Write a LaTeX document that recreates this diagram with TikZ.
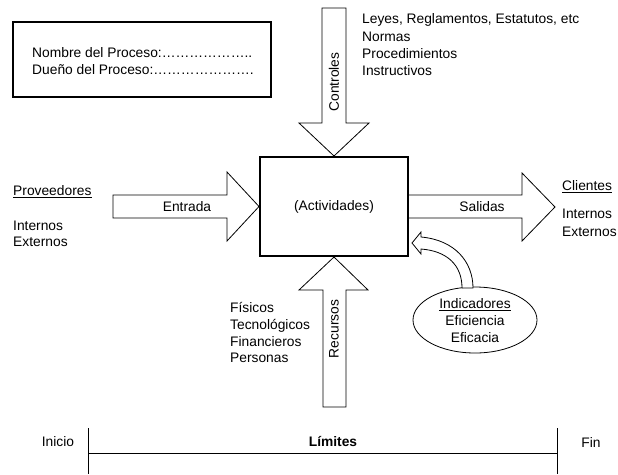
\documentclass[tikz,border=0pt]{standalone}
\usepackage{fontspec}
\setmainfont{Liberation Sans}
\usetikzlibrary{shapes.geometric}
\newcommand{\myell}{…}
\begin{document}
\begin{tikzpicture}[x=1pt,y=-1pt,
  txt/.style={font=\fontsize{13.8}{17}\selectfont, inner sep=0pt},
  blockarrow/.style={draw, line width=0.8pt, fill=white, line join=miter},
  framebox/.style={draw, line width=1.6pt},
  uline/.style={line width=0.7pt},
  limline/.style={line width=1pt}]
\useasboundingbox (0,0) rectangle (618,474);

% title box
\draw[framebox] (13,22) rectangle (271,97);
\node[txt, anchor=base west] (nombre) at (32,57) {Nombre del Proceso:\myell\myell\myell\myell\myell\myell..};
\node[txt, anchor=base west] (duenio) at (32,74) {Dueño del Proceso:\myell\myell\myell\myell\myell\myell\myell.};

% central box
\node[draw, line width=2pt, minimum width=148pt, minimum height=99pt, inner sep=0pt,
      font=\fontsize{13.8}{17}\selectfont] (act) at (334,206.5) {(Actividades)};

% Controles arrow
\draw[blockarrow] (322,8) -- (346,8) -- (346,123) -- (369,123) -- (act.north) -- (299,123) -- (322,123) -- cycle;
\node[txt, rotate=90] (controles) at (334,82) {Controles};
\node[txt, anchor=base west] (leyes) at (362,23) {Leyes, Reglamentos, Estatutos, etc};
\node[txt, anchor=base west] (normas) at (362,41) {Normas};
\node[txt, anchor=base west] (proc) at (362,58) {Procedimientos};
\node[txt, anchor=base west] (instr) at (362,75) {Instructivos};

% Entrada arrow
\draw[blockarrow] (113,195) -- (227,195) -- (227,172) -- (act.west) -- (227,241) -- (227,218) -- (113,218) -- cycle;
\node[txt] (entrada) at (187,207) {Entrada};
\node[txt, anchor=base west] (prov) at (13,195) {Proveedores};
\draw[uline] ([yshift=-2.5pt]prov.base west) -- ([yshift=-2.5pt]prov.base east);
\node[txt, anchor=base west] (intL) at (13,230) {Internos};
\node[txt, anchor=base west] (extL) at (13,246) {Externos};

% Salidas arrow
\coordinate (stip) at (555,207);
\draw[blockarrow] (act.east |- 0,195) -- (522,195) -- (522,173) -- (stip) -- (522,241) -- (522,218) -- (act.east |- 0,218);
\node[txt] (salidas) at (482,207) {Salidas};
\node[txt, anchor=base west] (clientes) at (562,190) {Clientes};
\draw[uline] ([yshift=-2.5pt]clientes.base west) -- ([yshift=-2.5pt]clientes.base east);
\node[txt, anchor=base west] (intR) at (562,218) {Internos};
\node[txt, anchor=base west] (extR) at (562,236) {Externos};

% Recursos arrow
\draw[blockarrow] (act.south) -- (368,290) -- (346,290) -- (346,407) -- (323,407) -- (323,290) -- (299,290) -- cycle;
\node[txt, rotate=90] (recursos) at (334,329) {Recursos};
\node[txt, anchor=base west] (fis) at (230,312) {Físicos};
\node[txt, anchor=base west] (tec) at (230,329) {Tecnológicos};
\node[txt, anchor=base west] (fin) at (230,346) {Financieros};
\node[txt, anchor=base west] (per) at (230,362) {Personas};

% Indicadores
\node[draw, ellipse, line width=0.8pt, minimum width=124pt, minimum height=66pt, inner sep=0pt] (ind) at (475,320) {};
\node[txt, anchor=base] (indic) at (475,308) {Indicadores};
\draw[uline] ([yshift=-2.5pt]indic.base west) -- ([yshift=-2.5pt]indic.base east);
\node[txt, anchor=base] (efi) at (475,325) {Eficiencia};
\node[txt, anchor=base] (efa) at (475,342) {Eficacia};

% curved arrow
\draw[blockarrow] (473,288) .. controls (473,262) and (455,240) .. (421,237)
   -- (421,232) -- (412,243) -- (421,254) -- (421,249)
   .. controls (447,251) and (462,265) .. (462,288) -- cycle;

% Limites
\coordinate (l1) at (88,428); \coordinate (l2) at (88,474);
\coordinate (r1) at (557,428); \coordinate (r2) at (557,474);
\draw[limline] (l1) -- (l2);
\draw[limline] (r1) -- (r2);
\draw[limline] (88,453) -- (557,453);
\node[txt, anchor=base] (inicio) at (58,446) {Inicio};
\node[txt, anchor=base] (finn) at (591,447) {Fin};
\node[txt, anchor=base, font=\fontsize{13.8}{17}\selectfont\bfseries] (lim) at (333,446) {Límites};
\end{tikzpicture}
\end{document}
